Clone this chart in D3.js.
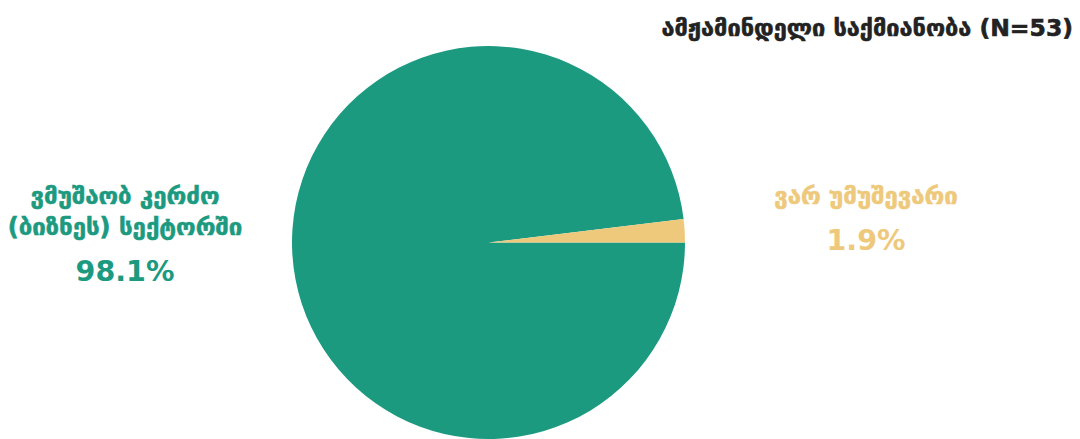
<!DOCTYPE html>
<html>
<head>
<meta charset="utf-8">
<script src="https://cdn.jsdelivr.net/npm/d3@7"></script>
<style>
  html, body { margin: 0; padding: 0; background: #ffffff; }
  svg { display: block; font-family: "DejaVu Sans", sans-serif; }
</style>
</head>
<body>
<svg id="chart" width="1080" height="439"></svg>
<script>
// Current occupation of respondents (N=53)
const title = "ამჟამინდელი საქმიანობა (N=53)";
const categories = [["ვმუშაობ კერძო", "(ბიზნეს) სექტორში"], ["ვარ უმუშევარი"]];
const values = [98.1, 1.9];
const colors = ["#1c9a80", "#eec97b"];

const svg = d3.select("#chart");
const cx = 488.5, cy = 242.5, r = 196.5;

const pie = d3.pie().sort(null).value(d => d)
  .startAngle(Math.PI / 2).endAngle(Math.PI / 2 + 2 * Math.PI);
const arc = d3.arc().innerRadius(0).outerRadius(r);

const g = svg.append("g").attr("transform", `translate(${cx},${cy})`);
g.selectAll("path")
  .data(pie(values))
  .join("path")
  .attr("d", arc)
  .attr("fill", (d, i) => colors[i]);

// Title
svg.append("text")
  .attr("x", 1073).attr("y", 36)
  .attr("text-anchor", "end")
  .attr("font-size", 23.5).attr("font-weight", "bold")
  .attr("fill", "#222222")
  .attr("stroke", "#222222").attr("stroke-width", 0.6)
  .text(title);

// Slice labels
const labelPos = [
  { x: 125, y: 204, pctY: 281 },
  { x: 866, y: 204, pctY: 250 }
];
categories.forEach((lines, i) => {
  const p = labelPos[i];
  const t = svg.append("text")
    .attr("text-anchor", "middle")
    .attr("font-weight", "bold")
    .attr("fill", colors[i])
    .attr("stroke", colors[i]).attr("stroke-width", 0.6);
  lines.forEach((line, j) => {
    t.append("tspan")
      .attr("x", p.x).attr("y", p.y + j * 31)
      .attr("font-size", 24)
      .text(line);
  });
  svg.append("text")
    .attr("x", p.x).attr("y", p.pctY)
    .attr("text-anchor", "middle")
    .attr("font-size", 28.5).attr("font-weight", "bold")
    .attr("fill", colors[i])
    .text(values[i].toFixed(1) + "%");
});
</script>
</body>
</html>
